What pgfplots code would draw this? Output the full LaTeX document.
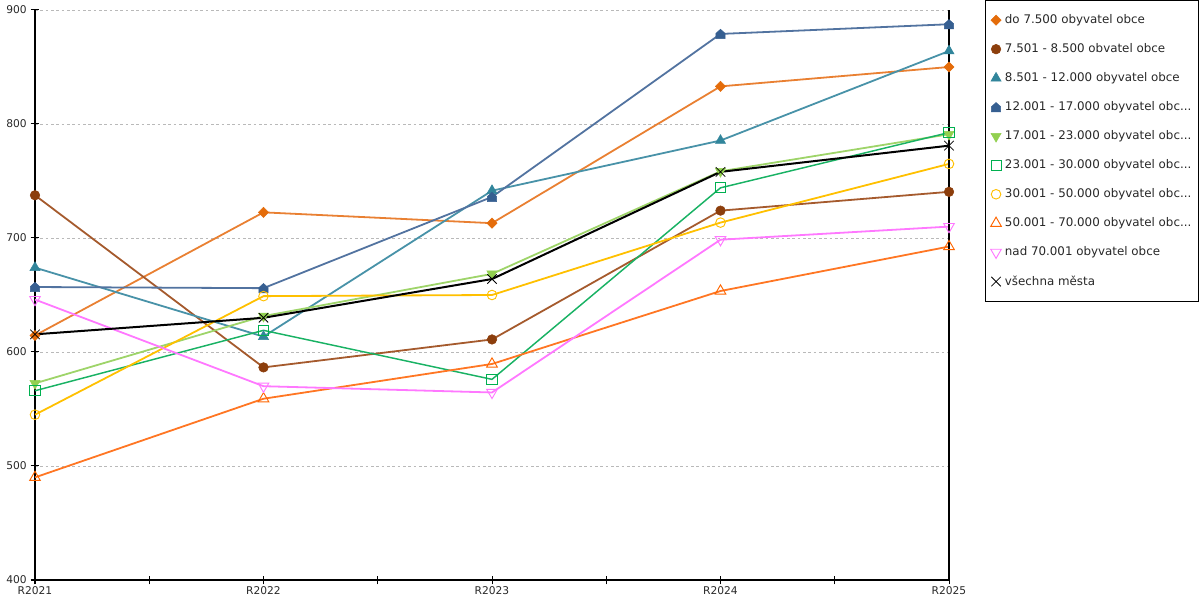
\documentclass[border=0pt]{standalone}
\usepackage{pgfplots}
\pgfplotsset{compat=1.18}
\usepackage{fontspec}
\setmainfont{DejaVu Sans}
\definecolor{cA}{RGB}{228,108,10}
\definecolor{cAl}{RGB}{233,128,50}
\definecolor{cB}{RGB}{140,62,12}
\definecolor{cBl}{RGB}{165,90,45}
\definecolor{cC}{RGB}{49,133,155}
\definecolor{cCl}{RGB}{72,146,168}
\definecolor{cD}{RGB}{54,95,145}
\definecolor{cDl}{RGB}{82,115,160}
\definecolor{cE}{RGB}{146,208,80}
\definecolor{cEl}{RGB}{158,212,105}
\definecolor{cF}{RGB}{0,176,80}
\definecolor{cFl}{RGB}{25,178,100}
\definecolor{cG}{RGB}{255,192,0}
\definecolor{cH}{RGB}{255,102,0}
\definecolor{cHl}{RGB}{255,118,35}
\definecolor{cI}{RGB}{255,120,255}
\definecolor{tickgray}{RGB}{40,40,40}
\pgfdeclareplotmark{house*}{%
  \pgfpathmoveto{\pgfqpoint{-\pgfplotmarksize}{-\pgfplotmarksize}}%
  \pgfpathlineto{\pgfqpoint{\pgfplotmarksize}{-\pgfplotmarksize}}%
  \pgfpathlineto{\pgfqpoint{\pgfplotmarksize}{0.1\pgfplotmarksize}}%
  \pgfpathlineto{\pgfqpoint{0pt}{\pgfplotmarksize}}%
  \pgfpathlineto{\pgfqpoint{-\pgfplotmarksize}{0.1\pgfplotmarksize}}%
  \pgfpathclose
  \pgfusepathqfillstroke}
\begin{document}
\begin{tikzpicture}
\path[use as bounding box] (-26.25pt,-15pt) rectangle (873.75pt,435pt);
\begin{axis}[
  scale only axis,
  width=685.5pt, height=427.5pt,
  xmin=0, xmax=4, ymin=400, ymax=900,
  clip=false,
  axis x line=bottom, axis y line=left,
  axis line style={-, black, line width=0.9pt},
  xtick={0,1,2,3,4},
  xticklabels={R2021,R2022,R2023,R2024,R2025},
  minor xtick={0.5,1.5,2.5,3.5},
  ytick={400,500,600,700,800,900},
  tick align=center,
  major tick length=6.5pt, minor tick length=6.5pt,
  tick style={black, line width=0.75pt},
  minor tick style={black, line width=0.75pt},
  ymajorgrids,
  major grid style={gray!55, dash pattern=on 2pt off 2pt, line width=0.5pt},
  ticklabel style={font=\fontsize{8pt}{9pt}\selectfont, text=tickgray},
  /pgf/number format/assume math mode=true,
  xticklabel style={yshift=1.5pt},
  yticklabel style={xshift=0.5pt},
  every axis plot/.append style={line width=1.35pt},
  legend style={at={(1,1)}, anchor=north west, xshift=27pt, yshift=7.5pt,
    draw=black, line width=0.6pt, font=\fontsize{8.9pt}{10pt}\selectfont,
    text=tickgray, row sep=11.1pt, column sep=1.5pt, inner xsep=4pt, inner ysep=9.5pt,
    cells={anchor=west}, nodes={inner sep=1.2pt}},
  legend cell align=left,
  legend image code/.code={\draw[#1, only marks, line width=0.6pt] plot coordinates {(0.08cm,0cm)};},
]
\addplot[cAl, mark=square*, mark size=2.7pt, mark options={cA, fill=cA, rotate=45, line width=0.4pt}]
  coordinates {(0,614.5) (1,722.5) (2,713) (3,833) (4,850)};
\addlegendentry{do 7.500 obyvatel obce}
\addplot[cBl, mark=*, mark size=3.6pt, mark options={cB, fill=cB, line width=0.4pt}]
  coordinates {(0,737.5) (1,586.5) (2,611) (3,724) (4,740.5)};
\addlegendentry{7.501 - 8.500 obvatel obce}
\addplot[cCl, mark=triangle*, mark size=4.4pt, mark options={cC, fill=cC, line width=0.4pt}]
  coordinates {(0,674) (1,613.5) (2,741.5) (3,785.5) (4,864)};
\addlegendentry{8.501 - 12.000 obyvatel obce}
\addplot[cDl, mark=house*, mark size=3.5pt, mark options={cD, fill=cD, line width=0.4pt}]
  coordinates {(0,657) (1,656) (2,736) (3,879) (4,887.5)};
\addlegendentry{12.001 - 17.000 obyvatel obc...}
\addplot[cEl, mark=triangle*, mark size=4.4pt, mark options={cE, fill=cE, rotate=180, line width=0.4pt}]
  coordinates {(0,572.5) (1,631.5) (2,668.5) (3,758.5) (4,791)};
\addlegendentry{17.001 - 23.000 obyvatel obc...}
\addplot[cFl, line width=1.1pt, mark=square, mark size=3.8pt, mark options={cF, line width=0.7pt}]
  coordinates {(0,566) (1,619) (2,576) (3,744) (4,792.5)};
\addlegendentry{23.001 - 30.000 obyvatel obc...}
\addplot[cG, mark=o, mark size=3.6pt, mark options={cG, fill=white, line width=0.7pt}]
  coordinates {(0,545) (1,649) (2,650) (3,713.5) (4,765)};
\addlegendentry{30.001 - 50.000 obyvatel obc...}
\addplot[cHl, mark=triangle, mark size=4.6pt, mark options={cH, line width=0.7pt}]
  coordinates {(0,490) (1,559) (2,589.5) (3,653.5) (4,692.5)};
\addlegendentry{50.001 - 70.000 obyvatel obc...}
\addplot[cI, mark=triangle, mark size=4.6pt, mark options={cI, rotate=180, line width=0.7pt}]
  coordinates {(0,646) (1,570) (2,564.5) (3,698.5) (4,710)};
\addlegendentry{nad 70.001 obyvatel obce}
\addplot[black, line width=1.5pt, mark=x, mark size=5pt, mark options={black, line width=0.6pt}]
  coordinates {(0,615.5) (1,630) (2,664) (3,758) (4,781)};
\addlegendentry{všechna města}
\draw[black, line width=0.9pt] (rel axis cs:1,0) -- (rel axis cs:1,1);
\end{axis}
\end{tikzpicture}
\end{document}
